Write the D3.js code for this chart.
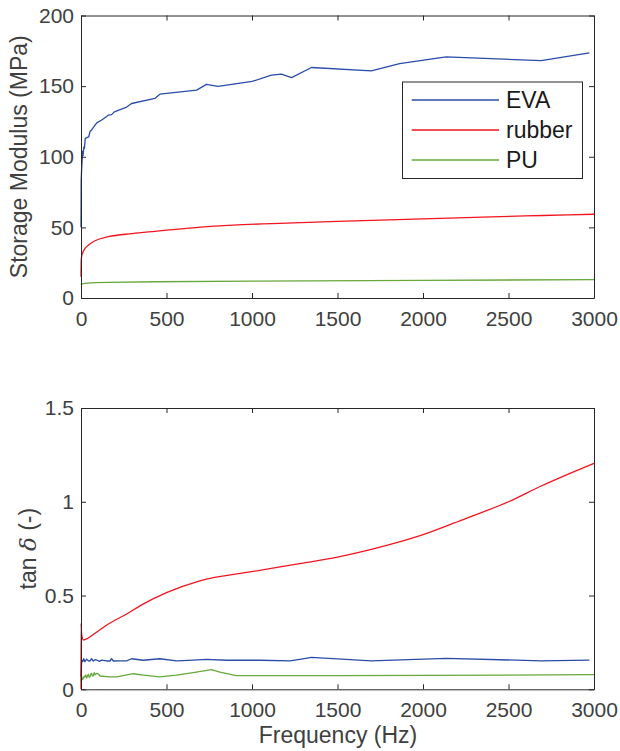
<!DOCTYPE html>
<html lang="en">
<head>
  <meta charset="UTF-8">
  <title>Storage modulus and tan delta</title>
  <script src="https://d3js.org/d3.v7.min.js"></script>
  <style>
    body { margin: 0; background: white; }
    svg { font-family: "Liberation Sans", Arial, Helvetica, sans-serif; }
  </style>
</head>
<body>
<div id="chart"></div>
<script>
  // ---- data ----
  // storage modulus (MPa)
  const evaStorFreq = [0, 1, 4, 8, 10, 12, 17, 20, 25, 37, 45, 53, 62, 92, 121, 150, 160, 179, 195, 267, 296, 432, 461, 676, 734, 802, 1000, 1114, 1172, 1231, 1348, 1698, 1863, 2136, 2691, 2973];
  const evaStor     = [50, 83, 92, 100, 104, 101, 107, 106, 113, 113.7, 114, 118, 119, 124, 126, 128.5, 129.5, 129.8, 131.8, 135.2, 137.7, 141.3, 144.3, 147.2, 151.2, 149.8, 153.3, 157.8, 158.5, 156, 163.2, 160.8, 166, 170.7, 168, 173.5];

  const rubberStorFreq = [0, 0.5, 1, 3, 10, 23, 50, 82, 160, 300, 432, 500, 700, 890, 1200, 1500, 1800, 2100, 2400, 2700, 3000];
  const rubberStor     = [15, 22, 26, 29, 32, 35, 38, 40.5, 43.4, 45.6, 47.2, 48, 50.2, 51.6, 53, 54.2, 55.3, 56.4, 57.5, 58.4, 59.3];

  const puStorFreq = [0, 5, 20, 82, 160, 432, 1000, 2000, 3000];
  const puStor     = [9.2, 9.9, 10.3, 10.9, 11.1, 11.5, 12.0, 12.5, 13.0];

  // tan delta (-)
  const evaTanFreq = [0, 4, 10, 16, 23, 33, 43, 53, 62, 72, 82, 92, 107, 121, 150, 169, 179, 189, 230, 267, 296, 364, 461, 559, 656, 734, 851, 1046, 1221, 1279, 1348, 1698, 2136, 2691, 2973];
  const evaTan     = [0.067, 0.156, 0.148, 0.163, 0.147, 0.161, 0.152, 0.151, 0.163, 0.151, 0.158, 0.156, 0.149, 0.156, 0.151, 0.151, 0.163, 0.151, 0.152, 0.152, 0.163, 0.155, 0.163, 0.152, 0.156, 0.160, 0.155, 0.155, 0.152, 0.160, 0.170, 0.152, 0.165, 0.152, 0.156];

  const rubberTanFreq = [0, 0.5, 3, 13.5, 40, 82, 160, 257, 355, 500, 695, 997, 1279, 1500, 1698, 1996, 2253, 2500, 2691, 3000];
  const rubberTan     = [0, 0.352, 0.30, 0.263, 0.272, 0.299, 0.348, 0.396, 0.45, 0.515, 0.578, 0.627, 0.670, 0.705, 0.746, 0.823, 0.912, 1.0, 1.084, 1.205];

  const puTanFreq = [0, 4, 9, 14, 18, 23, 28, 33, 38, 43, 48, 53, 58, 62, 67, 72, 77, 82, 87, 92, 101, 111, 169, 208, 306, 364, 461, 559, 656, 763, 812, 909, 1046, 1500, 2000, 2500, 3000];
  const puTan     = [0.045, 0.067, 0.052, 0.058, 0.07, 0.066, 0.076, 0.06, 0.072, 0.080, 0.064, 0.067, 0.083, 0.085, 0.07, 0.071, 0.089, 0.078, 0.082, 0.085, 0.082, 0.071, 0.066, 0.066, 0.083, 0.076, 0.066, 0.076, 0.089, 0.105, 0.092, 0.073, 0.073, 0.073, 0.074, 0.076, 0.078];

  const seriesNames = ["EVA", "rubber", "PU"];
  const seriesColors = ["#2a4ca8", "#f2141e", "#67a83a"];
  // rubber is a smooth measured curve, the others are jagged
  const seriesCurves = [d3.curveLinear, d3.curveMonotoneX, d3.curveLinear];

  const xTicks = [0, 500, 1000, 1500, 2000, 2500, 3000];
  const storTicks = [0, 50, 100, 150, 200];
  const tanTicks = [0, 0.5, 1, 1.5];

  // ---- layout ----
  const width = 620, height = 751;
  const axisColor = "#262626";
  const labelColor = "#404040";

  const svg = d3.select("#chart").append("svg")
    .attr("width", width)
    .attr("height", height);

  const x = d3.scaleLinear().domain([0, 3000]).range([81, 594]);

  function drawPanel(yScale, yTicks, yFormat, series, yLabel) {
    const g = svg.append("g");
    const top = yScale.range()[1], bottom = yScale.range()[0];

    // lines
    series.forEach((s, i) => {
      const line = d3.line()
        .x(d => x(d[0]))
        .y(d => yScale(d[1]))
        .curve(seriesCurves[i]);
      g.append("path")
        .datum(d3.zip(s.f, s.v))
        .attr("d", line)
        .attr("fill", "none")
        .attr("stroke", seriesColors[i])
        .attr("stroke-width", 1.3)
        .attr("stroke-linejoin", "round");
    });

    // box + inward ticks on all 4 sides
    const xb = g.append("g")
      .attr("transform", "translate(0," + bottom + ")")
      .call(d3.axisBottom(x).tickValues(xTicks).tickSize(-5).tickSizeOuter(0).tickPadding(13).tickFormat(d3.format("d")));
    const xt = g.append("g")
      .attr("transform", "translate(0," + top + ")")
      .call(d3.axisTop(x).tickValues(xTicks).tickSize(-5).tickSizeOuter(0).tickFormat(""));
    const yl = g.append("g")
      .attr("transform", "translate(" + x.range()[0] + ",0)")
      .call(d3.axisLeft(yScale).tickValues(yTicks).tickSize(-5).tickSizeOuter(0).tickPadding(7).tickFormat(yFormat));
    const yr = g.append("g")
      .attr("transform", "translate(" + x.range()[1] + ",0)")
      .call(d3.axisRight(yScale).tickValues(yTicks).tickSize(-5).tickSizeOuter(0).tickFormat(""));

    [xb, xt, yl, yr].forEach(a => {
      a.selectAll(".domain").attr("stroke", axisColor).attr("stroke-width", 1);
      a.selectAll(".tick line").attr("stroke", axisColor);
      a.selectAll(".tick text")
        .attr("fill", labelColor)
        .style("font-size", "21px");
    });

    // y label
    g.append("text")
      .attr("transform", "translate(" + yLabel.x + "," + ((top + bottom) / 2) + ") rotate(-90)")
      .attr("text-anchor", "middle")
      .attr("fill", labelColor)
      .style("font-size", "23px")
      .html(yLabel.html);
  }

  // top: storage modulus
  const yStor = d3.scaleLinear().domain([0, 200]).range([298, 15.5]);
  drawPanel(yStor, storTicks, d3.format("d"), [
    { f: evaStorFreq, v: evaStor },
    { f: rubberStorFreq, v: rubberStor },
    { f: puStorFreq, v: puStor }
  ], { x: 27, html: "Storage Modulus (MPa)" });

  // bottom: tan delta
  const yTan = d3.scaleLinear().domain([0, 1.5]).range([689.3, 408]);
  drawPanel(yTan, tanTicks, d => String(d), [
    { f: evaTanFreq, v: evaTan },
    { f: rubberTanFreq, v: rubberTan },
    { f: puTanFreq, v: puTan }
  ], { x: 36, html: "tan <tspan font-style=\"italic\" font-family=\"'DejaVu Serif', 'Liberation Serif', serif\">δ</tspan> (-)" });

  // x label
  svg.append("text")
    .attr("x", 338)
    .attr("y", 743)
    .attr("text-anchor", "middle")
    .attr("fill", labelColor)
    .style("font-size", "23px")
    .text("Frequency (Hz)");

  // legend
  const legend = svg.append("g");
  legend.append("rect")
    .attr("x", 402.5).attr("y", 82)
    .attr("width", 180).attr("height", 96.5)
    .attr("fill", "white")
    .attr("stroke", axisColor)
    .attr("stroke-width", 1);

  seriesNames.forEach((name, i) => {
    const ly = 100 + i * 30;
    legend.append("line")
      .attr("x1", 411.7).attr("x2", 499)
      .attr("y1", ly).attr("y2", ly)
      .attr("stroke", seriesColors[i])
      .attr("stroke-width", 1.3);
    legend.append("text")
      .attr("x", 506).attr("y", ly + 8)
      .attr("fill", "#1a1a1a")
      .style("font-size", "23px")
      .text(name);
  });
</script>
</body>
</html>
